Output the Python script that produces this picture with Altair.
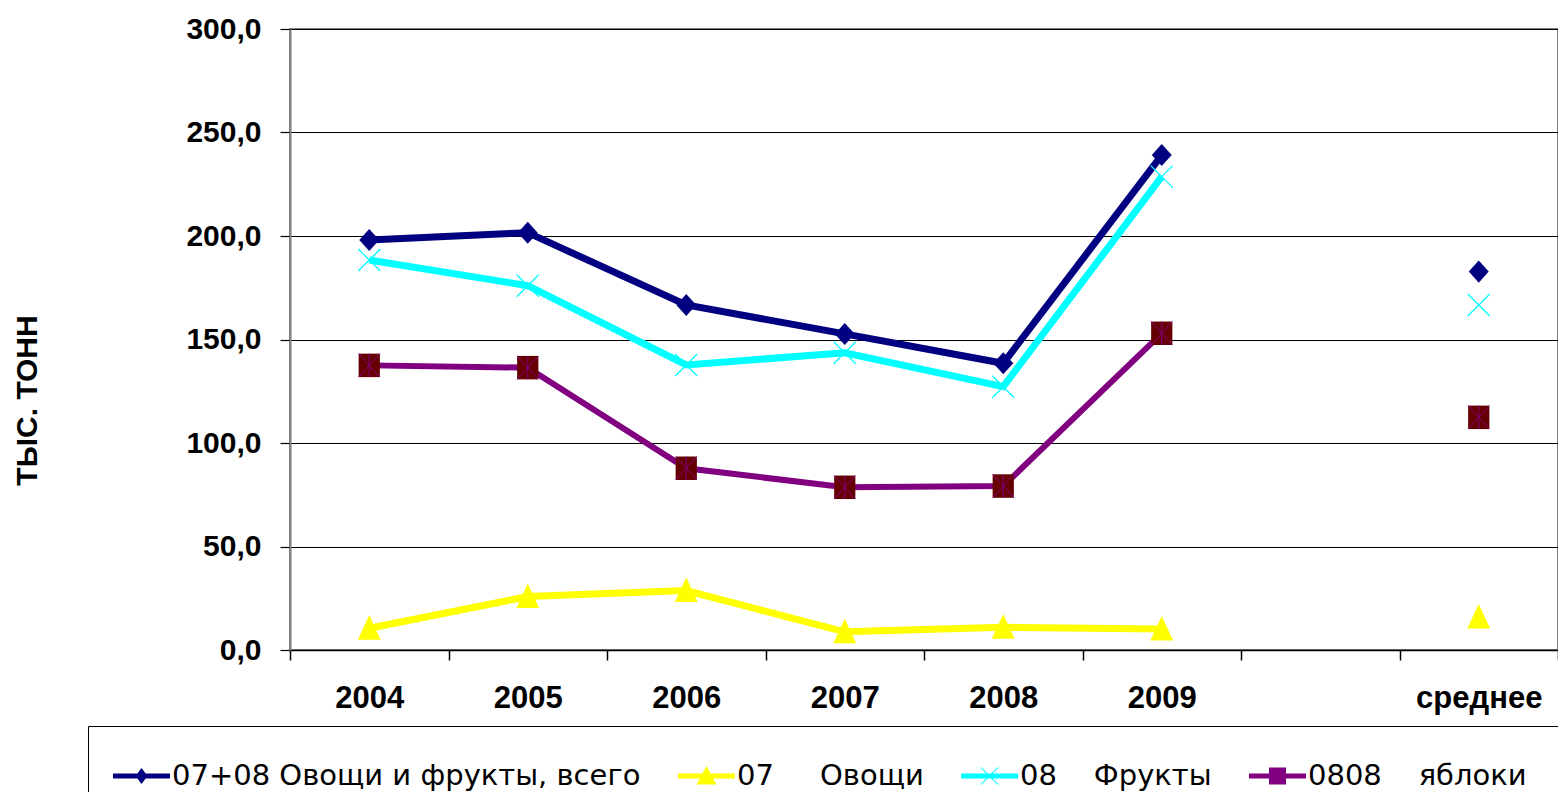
import altair as alt
import pandas as pd

# ---- data ----
categories = ["2004", "2005", "2006", "2007", "2008", "2009", " ", "среднее"]
years = ["2004", "2005", "2006", "2007", "2008", "2009"]
avg_cat = "среднее"

total = [198.1, 201.6, 166.7, 152.7, 138.5, 239.1]
total_avg = 182.8
veg = [10.5, 25.8, 28.7, 8.8, 11.0, 10.1]
veg_avg = 15.9
fruit = [188.4, 176.0, 137.7, 143.6, 127.2, 228.7]
fruit_avg = 166.7
apples = [137.5, 136.4, 87.8, 78.6, 79.2, 153.0]
apples_avg = 112.4

nb = "\u00a0"
series_names = [
    "07+08 Овощи и фрукты, всего",
    "07" + nb * 5 + "Овощи",
    "08" + nb * 4 + "Фрукты",
    "0808" + nb * 4 + "яблоки",
]
series_colors = ["#000080", "#FFFF00", "#00FFFF", "#800080"]
y_ticks = [0, 50, 100, 150, 200, 250, 300]

# an empty trailing legend slot, so the legend frame runs past the right edge
pad_entry = " "

FONT = "Liberation Sans"
LEGEND_FONT = "DejaVu Sans"

# legend symbol shapes (unit = 25 px): a thick line with the marker on it
LINE = "M-1,-0.1L1.28,-0.1L1.28,0.1L-1,0.1Z"
legend_paths = [
    LINE + "M0.14,-0.32L0.38,0L0.14,0.32L-0.1,0Z",
    LINE + "M0.14,-0.4L0.54,0.34L-0.26,0.34Z",
    LINE + "M-0.23,-0.34L-0.17,-0.34L0.51,0.34L0.45,0.34Z"
           "M0.45,-0.34L0.51,-0.34L-0.17,0.34L-0.23,0.34Z",
    LINE + "M-0.2,-0.34L0.48,-0.34L0.48,0.34L-0.2,0.34Z",
]


def frame(name, vals, avg):
    return pd.DataFrame({
        "cat": years + [avg_cat],
        "value": vals + [avg],
        "series": [name] * (len(vals) + 1),
    })


X = alt.X(
    "cat:N",
    sort=categories,
    scale=alt.Scale(type="band", domain=categories, paddingInner=0, paddingOuter=0),
    axis=alt.Axis(
        title=None, labelAngle=0, tickBand="extent", grid=False,
        labelFont=FONT, labelFontSize=31, labelFontWeight="bold", labelColor="black",
        labelPadding=23, tickSize=10, tickColor="black", tickWidth=1.5,
        domainColor="black", domainWidth=1.5, labelBaseline="top",
    ),
)
Y = alt.Y(
    "value:Q",
    scale=alt.Scale(domain=[0, 300], nice=False, zero=True),
    axis=alt.Axis(
        values=y_ticks,
        labelExpr="replace(format(datum.value, '.1f'), '.', ',')",
        title="ТЫС. ТОНН", titleFont=FONT, titleFontSize=30, titleFontWeight="bold",
        titleColor="black", titleAngle=270, titleX=-263, titleY=371,
        titleAlign="center", titleBaseline="middle",
        labelFont=FONT, labelFontSize=30, labelFontWeight="bold", labelColor="black",
        labelPadding=19, tickSize=10, tickColor="black", tickWidth=1.2,
        domainColor="#808080", domainWidth=2,
        grid=True, gridColor="black", gridWidth=1.2, gridOpacity=1,
    ),
)

data_total = frame(series_names[0], total, total_avg)
data_veg = frame(series_names[1], veg, veg_avg)
data_fruit = frame(series_names[2], fruit, fruit_avg)
data_apples = frame(series_names[3], apples, apples_avg)

layers = []


def line_layer(df, color, width):
    return alt.Chart(df).transform_filter(
        alt.datum.cat != avg_cat
    ).mark_line(color=color, strokeWidth=width).encode(x=X, y=Y)


XPATH = "M-1,-1L1,1M-1,1L1,-1"

layers.append(line_layer(data_total, "#000080", 7))
layers.append(alt.Chart(data_total).mark_point(
    shape="M0,-1.05L0.95,0L0,1.05L-0.95,0Z", filled=True, size=441, color="#000080",
    opacity=1).encode(x=X, y=Y))

layers.append(line_layer(data_veg, "#FFFF00", 7))
layers.append(alt.Chart(data_veg).mark_point(
    shape="M0,-1.1L0.95,0.95L-0.95,0.95Z", filled=True, size=576, color="#FFFF00",
    opacity=1).encode(x=X, y=Y))

layers.append(line_layer(data_fruit, "#00FFFF", 7))
layers.append(alt.Chart(data_fruit).mark_point(
    shape=XPATH, filled=False, size=484, color="#00FFFF", strokeWidth=1.3,
    opacity=1).encode(x=X, y=Y))

layers.append(line_layer(data_apples, "#800080", 6))
layers.append(alt.Chart(data_apples).mark_point(
    shape="M-0.95,-1.05L0.95,-1.05L0.95,1.05L-0.95,1.05Z", filled=True, size=500,
    color="#660000", opacity=1).encode(x=X, y=Y))
layers.append(alt.Chart(data_apples).mark_point(
    shape="M-0.95,-1.05L0.95,1.05M-0.95,1.05L0.95,-1.05M0,-1.05L0,1.05", filled=False,
    size=500, color="#800080", strokeWidth=1, opacity=1).encode(x=X, y=Y))

leg = alt.Legend(
    title=None, orient="none", legendX=-202, legendY=697, direction="horizontal",
    strokeColor="black", padding=25, columnPadding=37,
    labelFont=LEGEND_FONT, labelFontSize=29, labelColor="black", labelOffset=9,
    labelLimit=2000, symbolSize=2500, symbolStrokeWidth=0, symbolOpacity=1,
    labelExpr="datum.label == ' ' ? '' : datum.label",
)

legend_domain = series_names + [pad_entry]
legend_df = pd.concat([data_total, data_veg, data_fruit, data_apples]).query("cat == @avg_cat")
dummy = alt.Chart(legend_df).mark_point(filled=True, opacity=0, size=2500).encode(
    x=X, y=Y,
    color=alt.Color("series:N",
                    scale=alt.Scale(domain=legend_domain, range=series_colors + ["#FFFFFF"]),
                    legend=leg),
    shape=alt.Shape("series:N",
                    scale=alt.Scale(domain=legend_domain, range=legend_paths + ["M0,0"]),
                    legend=leg),
)
layers.append(dummy)

chart = alt.layer(*layers).properties(
    width=1268, height=621, autosize="none",
    padding={"left": 282, "top": 21, "right": 0, "bottom": 142},
    background="white",
).configure_view(stroke="#808080", strokeWidth=2)

chart.save("out.html", embed_options={"renderer": "svg", "actions": False})
